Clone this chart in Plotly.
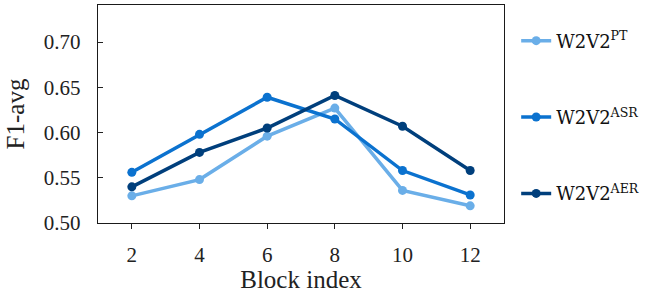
import plotly.graph_objects as go

block_index = [2, 4, 6, 8, 10, 12]
f1_pt = [0.530, 0.548, 0.596, 0.627, 0.536, 0.519]
f1_asr = [0.556, 0.598, 0.639, 0.615, 0.558, 0.531]
f1_aer = [0.540, 0.578, 0.605, 0.641, 0.607, 0.558]

series_names = ["W2V2<sup>PT</sup>", "W2V2<sup>ASR</sup>", "W2V2<sup>AER</sup>"]
series_values = [f1_pt, f1_asr, f1_aer]
colors = ["#6AAEE8", "#0B72CF", "#003F7C"]

x_ticks = [2, 4, 6, 8, 10, 12]
y_ticks = [0.50, 0.55, 0.60, 0.65, 0.70]
y_ticklabels = ["0.50", "0.55", "0.60", "0.65", "0.70"]

fig = go.Figure()
for i, (name, vals, c) in enumerate(zip(series_names, series_values, colors)):
    fig.add_trace(go.Scatter(
        x=block_index, y=vals, name=name, mode="lines+markers",
        line=dict(color=c, width=3.5),
        marker=dict(color=c, size=9),
        legendgroup=f"g{i}",
    ))

font_serif = "Liberation Serif"
fig.update_layout(
    width=664, height=293,
    margin=dict(l=98, r=160, t=4, b=65),
    paper_bgcolor="white", plot_bgcolor="white",
    font=dict(family=font_serif, size=21, color="#222222"),
    showlegend=True,
    legend=dict(
        x=1.03, xanchor="left", y=0.92, yanchor="top",
        font=dict(family="DejaVu Serif", size=18, color="#111111"),
        tracegroupgap=50,
        itemwidth=30,
        bgcolor="rgba(0,0,0,0)",
    ),
    xaxis=dict(
        range=[1, 13], tickvals=x_ticks,
        showline=True, linecolor="#1a1a1a", linewidth=1.4, mirror=True,
        ticks="outside", ticklen=5, tickcolor="#222222", tickwidth=1,
        showgrid=False, zeroline=False,
        title=dict(text="Block index", standoff=4),
        ticklabelstandoff=8,
    ),
    yaxis=dict(
        range=[0.5, 0.741], tickvals=y_ticks, ticktext=y_ticklabels,
        showline=True, linecolor="#1a1a1a", linewidth=1.4, mirror=True,
        ticks="inside", ticklen=5, tickcolor="#222222", tickwidth=1,
        showgrid=False, zeroline=False,
        title=dict(text="F1-avg", standoff=12),
        ticklabelstandoff=12,
    ),
)

fig.write_html("out.html", config={"displayModeBar": False},
               post_script="document.body.style.margin='0px';")
